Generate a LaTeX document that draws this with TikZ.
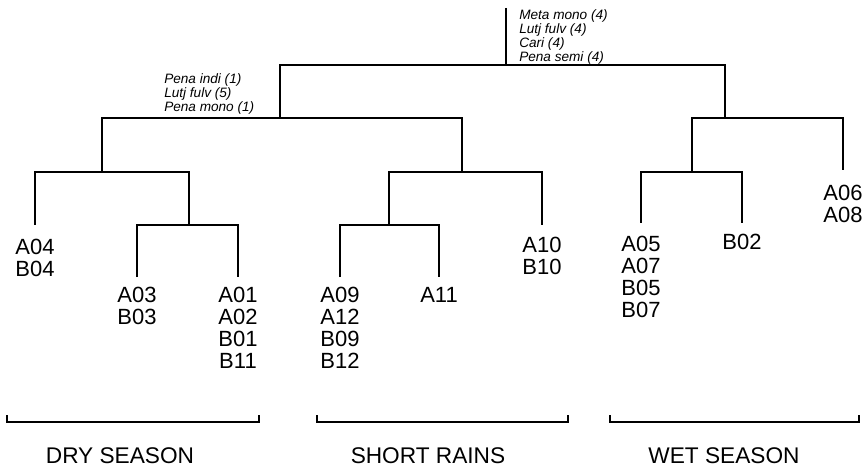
\documentclass[tikz,border=0pt]{standalone}
\usepackage{fontspec}
\setmainfont{Liberation Sans}
\begin{document}
\begin{tikzpicture}[x=0.75pt,y=-0.75pt,
  treeline/.style={line width=1.5pt,line join=miter},
  leaf/.style={anchor=north,inner sep=0pt,align=center,font=\fontsize{16.5}{16.4}\selectfont},
  species/.style={anchor=north west,inner sep=0pt,align=left,font=\fontsize{10.2}{9.2}\selectfont\itshape},
  season/.style={anchor=north,inner sep=0pt,font=\fontsize{17}{18}\selectfont},
  bracketline/.style={line width=1.5pt}]
\useasboundingbox (0,0) rectangle (862,466);
% tree coordinates
\coordinate (rtop) at (506,8);
\coordinate (root) at (506,65);
\coordinate (n1) at (280,118);
\coordinate (n2) at (725,118);
\coordinate (n3) at (102,172);
\coordinate (n4) at (462,172);
\coordinate (n5) at (692,172);
\coordinate (la06) at (843,170);
\coordinate (la04) at (35,225);
\coordinate (n6) at (189,225);
\coordinate (la03) at (137,277);
\coordinate (la01) at (238,277);
\coordinate (n7) at (389,225);
\coordinate (la10) at (542,225);
\coordinate (la09) at (340,277);
\coordinate (la11) at (439,277);
\coordinate (la05) at (641,223);
\coordinate (lb02) at (742,223);
% dendrogram
\draw[treeline] (rtop) -- (root);
\draw[treeline] (n1) |- (root) -| (n2);
\draw[treeline] (n3) |- (n1) -| (n4);
\draw[treeline] (n5) |- (n2) -| (la06);
\draw[treeline] (la04) |- (n3) -| (n6);
\draw[treeline] (la03) |- (n6) -| (la01);
\draw[treeline] (n7) |- (n4) -| (la10);
\draw[treeline] (la09) |- (n7) -| (la11);
\draw[treeline] (la05) |- (n5) -| (lb02);
% species labels
\node[species] (sp1) at (519,9) {Meta mono (4)\\Lutj fulv (4)\\Cari (4)\\Pena semi (4)};
\node[species] (sp2) at (164,73) {Pena indi (1)\\Lutj fulv (5)\\Pena mono (1)};
% leaf labels
\node[leaf] (ta04) at (35,239) {A04\\B04};
\node[leaf] (ta03) at (137,287) {A03\\B03};
\node[leaf] (ta01) at (238,287) {A01\\A02\\B01\\B11};
\node[leaf] (ta09) at (340,287) {A09\\A12\\B09\\B12};
\node[leaf] (ta11) at (439,287) {A11};
\node[leaf] (ta10) at (542,237) {A10\\B10};
\node[leaf] (ta05) at (641,236) {A05\\A07\\B05\\B07};
\node[leaf] (tb02) at (742,234) {B02};
\node[leaf] (ta06) at (843,185) {A06\\A08};
% season brackets
\coordinate (d1) at (7,415);
\coordinate (d2) at (259,415);
\coordinate (s1) at (317,415);
\coordinate (s2) at (568,415);
\coordinate (w1) at (610,415);
\coordinate (w2) at (859,415);
\draw[bracketline] (d1) -- ++(0,7) -| (d2);
\draw[bracketline] (s1) -- ++(0,7) -| (s2);
\draw[bracketline] (w1) -- ++(0,7) -| (w2);
\node[season] (dry) at (120,447) {DRY SEASON};
\node[season] (short) at (428,447) {SHORT RAINS};
\node[season] (wet) at (724,447) {WET SEASON};
\end{tikzpicture}
\end{document}
